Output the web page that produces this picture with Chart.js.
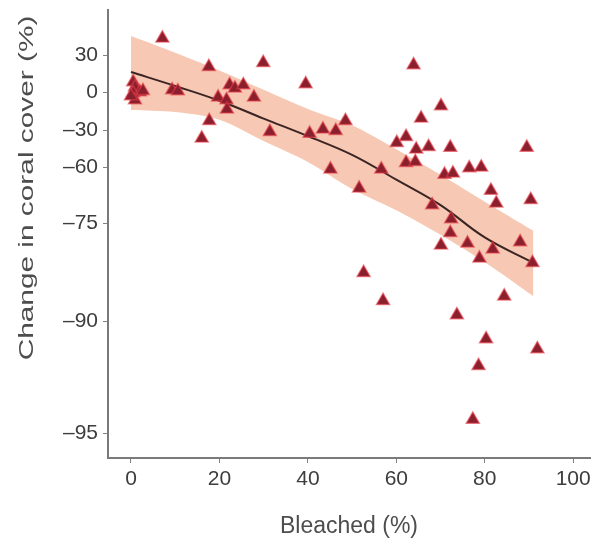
<!DOCTYPE html>
<html>
<head>
<meta charset="utf-8">
<script src="https://cdn.jsdelivr.net/npm/chart.js@4.4.1/dist/chart.umd.min.js"></script>
<style>
  body { margin: 0; background: #fff; }
</style>
</head>
<body>
<canvas id="coralChart" width="591" height="540"></canvas>
<script>
// Reef data
const bleached = [7.1, 17.6, 29.9, 39.5, 0.5, 0.9, 2.0, 0.5, 0.9, 2.7, 0, 9.3, 10.6, 17.7, 16.0, 19.7,
  22.3, 23.5, 25.4, 21.6, 21.7, 27.8, 31.4, 40.4, 43.4, 46.3, 48.5, 45.1, 51.6, 63.9, 70.1, 65.6,
  60.1, 62.2, 64.5, 67.3, 72.2, 62.2, 64.3, 56.6, 70.9, 72.8, 76.5, 79.2, 89.5, 81.4, 82.6, 90.4,
  68.1, 72.4, 72.2, 70.1, 76.1, 78.8, 81.8, 88.0, 90.8, 52.6, 57.0, 84.4, 73.7, 80.3, 91.9, 78.6, 77.3];
const coverChange = [43.5, 20.5, 23.8, 6.5, 8.1, 4.0, 0, -0.8, -6.3, 1.0, -3.2, 1.6, 0.8, -22.7, -36.7, -4.2,
  5.7, 3.0, 5.7, -6.3, -13.7, -4.2, -31.4, -32.8, -29.4, -30.6, -22.7, -60.6, -65.7, 21.9, -11.0, -20.8,
  -40.3, -35.4, -45.7, -43.6, -44.1, -56.6, -55.8, -60.6, -62.0, -61.7, -60.3, -60.1, -44.1, -66.3, -69.7, -68.8,
  -70.2, -73.9, -76.5, -78.4, -78.1, -80.4, -79.0, -77.9, -81.1, -82.6, -86.9, -86.2, -89.1, -90.8, -91.25, -92.0, -94.4];

// fitted trend and its confidence band
const fitX = [0, 10, 20, 30, 40, 50, 60, 70, 80, 91];
const fitY = [16.2, 4.9, -6.9, -21.0, -35.0, -50.2, -63.4, -70.2, -77.2, -81.1];
const fitUpper = [45.4, 31.9, 17.5, 1.8, -13.4, -26.3, -45.7, -62.1, -69.3, -76.2];
const fitLower = [-14.2, -15.8, -21.9, -38.9, -55.9, -65.9, -71.6, -76.8, -81.0, -86.2];

const xTicks = [0, 20, 40, 60, 80, 100];
const yTicks = [-95, -90, -75, -60, -30, 0, 30];

// the y axis of the figure is not linear: knots of the axis warp (value -> share of the axis height)
const warpVals = [-96.1, -95, -90, -75, -60, -30, 0, 30, 66.5];
const warpPos = [0, 25, 137, 235, 291, 328, 366, 403, 448].map(p => p / 448);

function interp(v, xs, ys) {
  if (v <= xs[0]) return ys[0] + (v - xs[0]) * (ys[1] - ys[0]) / (xs[1] - xs[0]);
  for (let i = 1; i < xs.length; i++) {
    if (v <= xs[i]) return ys[i - 1] + (v - xs[i - 1]) * (ys[i] - ys[i - 1]) / (xs[i] - xs[i - 1]);
  }
  const n = xs.length - 1;
  return ys[n] + (v - xs[n]) * (ys[n] - ys[n - 1]) / (xs[n] - xs[n - 1]);
}

class WarpScale extends Chart.LinearScale {
  buildTicks() { return yTicks.map(v => ({ value: v })); }
  getPixelForValue(v) { return this.getPixelForDecimal(interp(v, warpVals, warpPos)); }
  getValueForPixel(p) { return interp(this.getDecimalForPixel(p), warpPos, warpVals); }
}
WarpScale.id = 'warp';
WarpScale.defaults = Chart.LinearScale.defaults;
Chart.register(WarpScale);

const pairs = (xs, ys) => xs.map((x, i) => ({ x: x, y: ys[i] }));
const dash = v => (v < 0 ? '\u2013' + Math.abs(v) : String(v));

const yTitle = {
  id: 'yTitle',
  afterDraw(chart) {
    const ctx = chart.ctx;
    ctx.save();
    ctx.translate(27, 188);
    ctx.rotate(-Math.PI / 2);
    ctx.scale(1.42, 1);
    ctx.font = '21px "Liberation Sans"';
    ctx.fillStyle = '#4d4d4d';
    ctx.textAlign = 'center';
    ctx.textBaseline = 'middle';
    ctx.fillText('Change in coral cover (%)', 0, 0);
    ctx.restore();
  }
};

const ctx = document.getElementById('coralChart').getContext('2d');
new Chart(ctx, {
  type: 'scatter',
  data: {
    datasets: [
      {
        label: 'Reefs',
        data: pairs(bleached, coverChange),
        pointStyle: 'triangle',
        pointRadius: 7.5,
        backgroundColor: '#8a1f2e',
        borderColor: 'rgba(228,60,70,0.6)',
        borderWidth: 1.5,
        order: 0
      },
      {
        label: 'Fit',
        data: pairs(fitX, fitY),
        showLine: true,
        pointRadius: 0,
        borderColor: '#3b2424',
        borderWidth: 2,
        tension: 0.4,
        order: 1
      },
      {
        label: 'Upper',
        data: pairs(fitX, fitUpper),
        showLine: true,
        pointRadius: 0,
        borderWidth: 0,
        borderColor: 'rgba(0,0,0,0)',
        backgroundColor: '#f7c8b3',
        fill: '+1',
        tension: 0.3,
        order: 2
      },
      {
        label: 'Lower',
        data: pairs(fitX, fitLower),
        showLine: true,
        pointRadius: 0,
        borderWidth: 0,
        borderColor: 'rgba(0,0,0,0)',
        tension: 0.3,
        order: 3
      }
    ]
  },
  options: {
    responsive: false,
    animation: false,
    layout: { autoPadding: false, padding: { top: 10, right: 1, left: 0, bottom: 0 } },
    plugins: {
      legend: { display: false },
      tooltip: { enabled: false }
    },
    scales: {
      x: {
        type: 'linear',
        min: -5.2,
        max: 103.8,
        afterBuildTicks: axis => { axis.ticks = xTicks.map(v => ({ value: v })); },
        afterFit: axis => { axis.height = 82; axis.paddingLeft = 0; axis.paddingRight = 0; },
        grid: { drawOnChartArea: false, color: '#808080', tickLength: 5, tickWidth: 1 },
        border: { color: '#7a7a7a', width: 2 },
        ticks: {
          color: '#3d3d3d',
          font: { family: 'Liberation Sans', size: 21 },
          padding: 4,
          maxRotation: 0
        },
        title: {
          display: true,
          text: 'Bleached (%)',
          color: '#4d4d4d',
          font: { family: 'Liberation Sans', size: 23 },
          padding: { top: 0, bottom: 0 }
        }
      },
      y: {
        type: 'warp',
        min: -96.1,
        max: 66.5,
        afterFit: axis => { axis.width = 108; axis.paddingTop = 0; axis.paddingBottom = 0; },
        grid: { drawOnChartArea: false, color: '#808080', tickLength: 5, tickWidth: 1 },
        border: { color: '#7a7a7a', width: 2 },
        ticks: {
          autoSkip: false,
          color: '#3d3d3d',
          font: { family: 'Liberation Sans', size: 21 },
          padding: 5,
          callback: v => dash(v)
        }
      }
    }
  },
  plugins: [yTitle]
});
</script>
</body>
</html>
